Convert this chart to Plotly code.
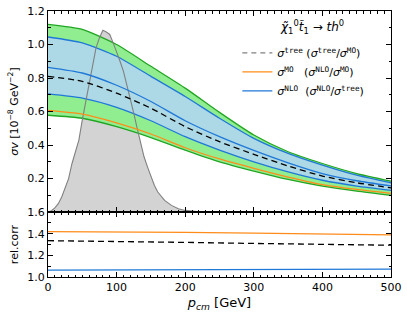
import plotly.graph_objects as go

# ---- data ----
p_cm = [0, 50, 100, 150, 200, 250, 300, 350, 400, 450, 500]
green_upper = [1.12, 1.09, 1.00, 0.87, 0.74, 0.595, 0.46, 0.36, 0.29, 0.23, 0.185]
blue_upper = [1.045, 1.01, 0.93, 0.81, 0.69, 0.56, 0.44, 0.35, 0.28, 0.22, 0.175]
sigma_nlo = [0.864, 0.83, 0.757, 0.66, 0.545, 0.45, 0.368, 0.294, 0.23, 0.187, 0.156]
sigma_tree = [0.81, 0.78, 0.71, 0.62, 0.51, 0.42, 0.345, 0.275, 0.215, 0.175, 0.145]
blue_lower = [0.705, 0.68, 0.625, 0.545, 0.45, 0.37, 0.30, 0.24, 0.19, 0.155, 0.13]
sigma_mo = [0.607, 0.585, 0.533, 0.466, 0.384, 0.317, 0.261, 0.209, 0.164, 0.135, 0.112]
green_lower = [0.578, 0.56, 0.51, 0.445, 0.37, 0.30, 0.245, 0.195, 0.155, 0.125, 0.10]

dist_x = [0, 5, 10, 15, 20, 25, 30, 35, 40, 45, 50, 55, 60, 65, 70, 75, 80, 85, 90, 95,
          100, 105, 110, 115, 120, 125, 130, 135, 140, 145, 150, 155, 160, 170, 180, 190,
          200, 210, 220, 230, 240]
dist_y = [0, 0.008, 0.025, 0.05, 0.09, 0.14, 0.2, 0.29, 0.36, 0.43, 0.55, 0.66, 0.77, 0.88,
          0.98, 1.04, 1.085, 1.075, 1.06, 1.01, 0.96, 0.9, 0.84, 0.76, 0.68, 0.59, 0.5, 0.41,
          0.33, 0.27, 0.21, 0.16, 0.12, 0.07, 0.04, 0.02, 0.01, 0.005, 0.002, 0.001, 0]

ratio_x = [0, 100, 200, 300, 400, 500]
ratio_nlo_mo = [1.42, 1.418, 1.412, 1.405, 1.397, 1.39]
ratio_tree_mo = [1.336, 1.33, 1.32, 1.31, 1.30, 1.294]
ratio_nlo_tree = [1.063, 1.064, 1.066, 1.068, 1.07, 1.072]

C_GREEN_FILL = "#90ee90"
C_GREEN = "#22a522"
C_BLUE_FILL = "#add8e6"
C_BLUE = "#1f78d8"
C_ORANGE = "#ff8c1a"
C_GRAY_FILL = "#d3d3d3"
C_GRAY = "#808080"

TT = "font-family:'DejaVu Sans Mono'"
def tt(s):
    return f"<span style=\"{TT}\">{s}</span>"

fig = go.Figure()
sp = dict(shape="spline", smoothing=0.6)

# histogram fill
fig.add_trace(go.Scatter(x=dist_x, y=dist_y, mode="lines", fill="tozeroy",
                         fillcolor=C_GRAY_FILL, line=dict(width=0), showlegend=False,
                         xaxis="x", yaxis="y"))
# green band
fig.add_trace(go.Scatter(x=p_cm, y=green_lower, mode="lines", line=dict(color=C_GREEN, width=1.3, **sp),
                         showlegend=False))
fig.add_trace(go.Scatter(x=p_cm, y=green_upper, mode="lines", fill="tonexty", fillcolor=C_GREEN_FILL,
                         line=dict(color=C_GREEN, width=1.3, **sp), showlegend=False))
# blue band
fig.add_trace(go.Scatter(x=p_cm, y=blue_lower, mode="lines", line=dict(color=C_BLUE, width=1.3, **sp),
                         showlegend=False))
fig.add_trace(go.Scatter(x=p_cm, y=blue_upper, mode="lines", fill="tonexty", fillcolor=C_BLUE_FILL,
                         line=dict(color=C_BLUE, width=1.3, **sp), showlegend=False))
# histogram outline
fig.add_trace(go.Scatter(x=dist_x, y=dist_y, mode="lines", line=dict(color=C_GRAY, width=1.1),
                         showlegend=False))
# central lines
fig.add_trace(go.Scatter(x=p_cm, y=sigma_nlo, mode="lines", line=dict(color=C_BLUE, width=1.3, **sp),
                         showlegend=False))
fig.add_trace(go.Scatter(x=p_cm, y=sigma_mo, mode="lines", line=dict(color=C_ORANGE, width=1.3, **sp),
                         showlegend=False))
fig.add_trace(go.Scatter(x=p_cm, y=sigma_tree, mode="lines",
                         line=dict(color="black", width=1.3, dash="6px,4px", **sp), showlegend=False))

# ratio panel
fig.add_trace(go.Scatter(x=ratio_x, y=ratio_nlo_mo, mode="lines", line=dict(color=C_ORANGE, width=1.3),
                         showlegend=False, xaxis="x2", yaxis="y2"))
fig.add_trace(go.Scatter(x=ratio_x, y=ratio_tree_mo, mode="lines",
                         line=dict(color="black", width=1.3, dash="6px,4px"),
                         showlegend=False, xaxis="x2", yaxis="y2"))
fig.add_trace(go.Scatter(x=ratio_x, y=ratio_nlo_tree, mode="lines", line=dict(color=C_BLUE, width=1.3),
                         showlegend=False, xaxis="x2", yaxis="y2"))

# legend entries
fig.add_trace(go.Scatter(x=[None], y=[None], mode="lines",
                         line=dict(color=C_GRAY, width=1.3, dash="5px,4px"),
                         name=f"<i>σ</i><sup>{tt('tree')}</sup> (<i>σ</i><sup>{tt('tree')}</sup>/<i>σ</i><sup>{tt('MO')}</sup>)"))
fig.add_trace(go.Scatter(x=[None], y=[None], mode="lines", line=dict(color=C_ORANGE, width=1.3),
                         name=f"<i>σ</i><sup>{tt('MO')}</sup>   (<i>σ</i><sup>{tt('NLO')}</sup>/<i>σ</i><sup>{tt('MO')}</sup>)"))
fig.add_trace(go.Scatter(x=[None], y=[None], mode="lines", line=dict(color=C_BLUE, width=1.3),
                         name=f"<i>σ</i><sup>{tt('NLO')}</sup>  (<i>σ</i><sup>{tt('NLO')}</sup>/<i>σ</i><sup>{tt('tree')}</sup>)"))

FONT = "DejaVu Sans"
axis_common = dict(ticks="inside", showline=True, linecolor="black", linewidth=1,
                   mirror="ticks", tickcolor="black", ticklen=5, tickwidth=1,
                   showgrid=False, zeroline=False, automargin=False,
                   tickfont=dict(family=FONT, size=11, color="black"))
minor_common = dict(ticks="inside", ticklen=2.5, tickcolor="black", tickwidth=0.8, showgrid=False)

split = 0.244
fig.update_layout(
    width=407, height=319,
    margin=dict(l=48, r=16, t=11, b=42),
    paper_bgcolor="white", plot_bgcolor="white",
    font=dict(family=FONT, size=11, color="black"),
    showlegend=True,
    legend=dict(x=0.552, y=0.897, xanchor="left", yanchor="top", bgcolor="rgba(0,0,0,0)",
                font=dict(family=FONT, size=11, color="black"), tracegroupgap=0,
                traceorder="normal", itemwidth=30),
    xaxis=dict(domain=[0, 1], range=[0, 500], anchor="y", showticklabels=False,
               dtick=100, tick0=0, minor=dict(dtick=10, **minor_common), **axis_common),
    yaxis=dict(domain=[split, 1], range=[0, 1.2], anchor="x",
               tickvals=[0.2, 0.4, 0.6, 0.8, 1.0, 1.2],
               ticktext=["0.2", "0.4", "0.6", "0.8", "1.0", "1.2"],
               minor=dict(dtick=0.1, tick0=0, **minor_common),
               title=dict(text="<i>σv</i> [10<sup>−8</sup> GeV<sup>−2</sup>]",
                          font=dict(family=FONT, size=11), standoff=6),
               **axis_common),
    xaxis2=dict(domain=[0, 1], range=[0, 500], anchor="y2", matches="x",
                dtick=100, tick0=0, minor=dict(dtick=10, **minor_common),
                title=dict(text="<i>p<sub>cm</sub></i> [GeV]", font=dict(family=FONT, size=13), standoff=4),
                **axis_common),
    yaxis2=dict(domain=[0, split], range=[1.0, 1.6], anchor="x2",
                tickvals=[1.0, 1.2, 1.4, 1.6], ticktext=["1.0", "1.2", "1.4", "1.6"],
                minor=dict(dtick=0.1, tick0=1.0, **minor_common),
                title=dict(text="rel.corr", font=dict(family=FONT, size=11), standoff=6),
                **axis_common),
)

fig.add_annotation(text="<i>χ̃</i><sub>1</sub><sup>0</sup><i>t̃</i><sub>1</sub> → <i>th</i><sup>0</sup>",
                   xref="paper", yref="paper", x=0.672, y=0.94, xanchor="left", yanchor="middle",
                   showarrow=False, font=dict(family=FONT, size=12, color="black"))

fig.write_html("out.html", config={"displayModeBar": False},
               post_script="document.body.style.margin='0';")
